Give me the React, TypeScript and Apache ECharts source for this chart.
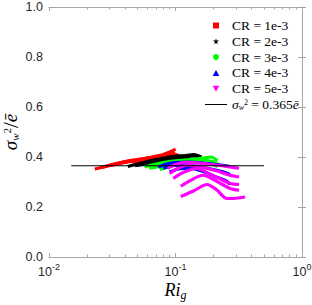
import React, { useEffect, useRef } from "react";
import * as echarts from "echarts";

const seriesNames = ["CR = 1e-3", "CR = 2e-3", "CR = 3e-3", "CR = 4e-3", "CR = 5e-3"];
const seriesColors = ["#ff0000", "#000000", "#00ff00", "#0000ff", "#ff00ff"];

// [Ri_g, sigma_w^2 / e] points for each curve
const cr1Curves: number[][][] = [
  [[0.023, 0.352], [0.028, 0.362], [0.035, 0.375], [0.045, 0.385], [0.06, 0.395], [0.08, 0.405], [0.1, 0.415]],
  [[0.026, 0.358], [0.032, 0.37], [0.04, 0.382], [0.05, 0.39], [0.065, 0.4], [0.08, 0.41], [0.095, 0.425], [0.1, 0.432]],
  [[0.03, 0.365], [0.04, 0.378], [0.055, 0.39], [0.07, 0.398], [0.09, 0.405], [0.105, 0.41]],
  [[0.045, 0.38], [0.06, 0.39], [0.075, 0.395], [0.09, 0.4], [0.11, 0.405]],
];
const cr2Curves: number[][][] = [
  [[0.042, 0.362], [0.05, 0.372], [0.06, 0.382], [0.075, 0.392], [0.09, 0.4], [0.11, 0.405], [0.13, 0.405], [0.155, 0.4]],
  [[0.048, 0.365], [0.06, 0.375], [0.075, 0.385], [0.095, 0.395], [0.12, 0.405], [0.14, 0.41], [0.16, 0.4]],
  [[0.055, 0.37], [0.07, 0.38], [0.085, 0.39], [0.1, 0.395], [0.12, 0.395], [0.14, 0.39]],
];
const cr3Curves: number[][][] = [
  [[0.057, 0.36], [0.065, 0.368], [0.08, 0.378], [0.1, 0.385], [0.13, 0.39], [0.16, 0.395], [0.19, 0.4], [0.215, 0.385]],
  [[0.062, 0.355], [0.075, 0.362], [0.09, 0.372], [0.11, 0.38], [0.14, 0.385], [0.17, 0.388], [0.2, 0.38], [0.22, 0.37]],
  [[0.075, 0.35], [0.085, 0.358], [0.1, 0.368], [0.13, 0.375], [0.16, 0.378], [0.19, 0.372], [0.215, 0.362]],
];
const cr4Curves: number[][][] = [
  [[0.073, 0.36], [0.085, 0.372], [0.1, 0.378], [0.13, 0.38], [0.17, 0.375], [0.21, 0.37], [0.25, 0.365], [0.27, 0.362]],
  [[0.08, 0.355], [0.095, 0.365], [0.12, 0.368], [0.16, 0.36], [0.2, 0.35], [0.24, 0.34], [0.27, 0.33]],
  [[0.09, 0.34], [0.105, 0.352], [0.13, 0.355], [0.17, 0.34], [0.21, 0.32], [0.25, 0.305], [0.27, 0.29]],
];
const cr5Curves: number[][][] = [
  [[0.087, 0.355], [0.1, 0.37], [0.123, 0.379], [0.16, 0.375], [0.21, 0.368], [0.27, 0.36], [0.318, 0.355]],
  [[0.09, 0.334], [0.105, 0.355], [0.123, 0.367], [0.16, 0.36], [0.21, 0.345], [0.27, 0.327], [0.318, 0.32]],
  [[0.096, 0.314], [0.115, 0.338], [0.147, 0.354], [0.19, 0.33], [0.23, 0.31], [0.27, 0.294], [0.318, 0.29]],
  [[0.11, 0.283], [0.13, 0.305], [0.165, 0.327], [0.2, 0.31], [0.235, 0.29], [0.27, 0.274], [0.318, 0.267]],
  [[0.11, 0.242], [0.14, 0.265], [0.177, 0.29], [0.21, 0.27], [0.255, 0.234], [0.3, 0.235], [0.355, 0.24]],
];
const allCurves = [cr1Curves, cr2Curves, cr3Curves, cr4Curves, cr5Curves];

const fitName = "fit";
const fitLine: number[][] = [[0.015, 0.365], [0.5, 0.365]];

const xMajorExponents = [-2, -1, 0];
const xMinorMultipliers = [2, 3, 4, 5, 6, 7, 8, 9];

const legendIcons = [
  "path://M0,0 H10 V10 H0 Z",
  "path://M50,0 L61,35 L98,35 L68,57 L79,91 L50,70 L21,91 L32,57 L2,35 L39,35 Z",
  "circle",
  "path://M5,0 L10,9 L0,9 Z",
  "path://M0,0 L10,0 L5,9 Z",
];

const boxColor = "#a6a6a6";
const labelColor = "#262626";
const sans = "'Liberation Sans', Arial, sans-serif";
const serif = "'Liberation Serif', 'Times New Roman', serif";

const toLog = (pts: number[][]) => pts.map(([x, y]) => [Math.log10(x), y]);

export default function App() {
  const ref = useRef<HTMLDivElement>(null);
  useEffect(() => {
    document.body.style.margin = "0";
    if (!ref.current) return;
    const chart = echarts.init(ref.current, null, { renderer: "svg" });

    const minorTicks: number[] = [];
    xMajorExponents.slice(0, -1).forEach((e) => {
      xMinorMultipliers.forEach((m) => minorTicks.push(e + Math.log10(m)));
    });

    const series: any[] = [];
    allCurves.forEach((curves, i) => {
      curves.forEach((c) => {
        series.push({
          type: "line",
          name: seriesNames[i],
          data: toLog(c),
          showSymbol: false,
          symbol: "none",
          smooth: 0.3,
          lineStyle: { color: seriesColors[i], width: 3.2 },
          itemStyle: { color: seriesColors[i] },
          xAxisIndex: 0,
          yAxisIndex: 0,
          z: 2 + i,
        });
      });
    });
    series.push({
      type: "line",
      name: fitName,
      data: toLog(fitLine),
      showSymbol: false,
      symbol: "none",
      lineStyle: { color: "#000", width: 1 },
      itemStyle: { color: "#000" },
      xAxisIndex: 0,
      yAxisIndex: 0,
      z: 10,
    });

    const xLabelRich = {
      b: { fontSize: 12.5, fontFamily: sans, color: labelColor, verticalAlign: "bottom", lineHeight: 16 },
      s: { fontSize: 9, fontFamily: sans, color: labelColor, verticalAlign: "top", lineHeight: 16 },
    };
    const baseX = { type: "value", min: -2, max: 0, interval: 1, splitLine: { show: false } };

    const option: any = {
      animation: false,
      grid: { left: 49, right: 10, top: 7, bottom: 48, containLabel: false, outerBoundsMode: "none" },
      legend: {
        orient: "vertical",
        left: 200,
        top: 13.5,
        itemWidth: 22,
        itemHeight: 6,
        itemGap: 1.8,
        symbolKeepAspect: true,
        textStyle: {
          fontFamily: serif,
          fontSize: 13.5,
          color: "#000",
          lineHeight: 13,
          rich: {
            it: { fontFamily: serif, fontStyle: "italic", fontSize: 13.5, color: "#000", lineHeight: 13, verticalAlign: "middle" },
            sub: { fontFamily: serif, fontStyle: "italic", fontSize: 8, color: "#000", lineHeight: 13, verticalAlign: "bottom" },
            sup: { fontFamily: serif, fontSize: 8, color: "#000", lineHeight: 13, verticalAlign: "top" },
            n: { fontFamily: serif, fontSize: 13.5, color: "#000", lineHeight: 13, verticalAlign: "middle" },
          },
        },
        formatter: (name: string) =>
          name === fitName ? "{it|σ}{sub|w}{sup|2}{n| = 0.365}{it|ē}" : name,
        data: [
          ...seriesNames.map((n, i) => ({ name: n, icon: legendIcons[i], itemStyle: { color: seriesColors[i] } })),
          { name: fitName, icon: "path://M0,0 H22 V1 H0 Z", itemStyle: { color: "#000" } },
        ],
      },
      xAxis: [
        {
          ...baseX,
          position: "bottom",
          name: "{it|Ri}{sub|g}",
          nameLocation: "middle",
          nameGap: 22,
          nameMoveOverlap: false,
          nameTextStyle: {
            rich: {
              it: { fontFamily: serif, fontStyle: "italic", fontSize: 18, color: "#000", lineHeight: 22, verticalAlign: "middle" },
              sub: { fontFamily: serif, fontStyle: "italic", fontSize: 12, color: "#000", lineHeight: 22, verticalAlign: "bottom" },
            },
          },
          axisLine: { show: true, lineStyle: { color: boxColor, width: 1 } },
          axisTick: { show: true, inside: true, length: 4, lineStyle: { color: boxColor } },
          axisLabel: {
            show: true,
            margin: 5,
            formatter: (v: number) => "{b|10}{s|" + Math.round(v) + "}",
            rich: xLabelRich,
          },
        },
        {
          ...baseX,
          position: "bottom",
          axisLine: { show: false },
          axisTick: { show: true, inside: true, length: 2.5, lineStyle: { color: boxColor }, customValues: minorTicks },
          axisLabel: { show: false },
        },
        {
          ...baseX,
          position: "top",
          axisLine: { show: true, lineStyle: { color: boxColor, width: 1 } },
          axisTick: { show: true, inside: true, length: 4, lineStyle: { color: boxColor } },
          axisLabel: { show: false },
        },
        {
          ...baseX,
          position: "top",
          axisLine: { show: false },
          axisTick: { show: true, inside: true, length: 2.5, lineStyle: { color: boxColor }, customValues: minorTicks },
          axisLabel: { show: false },
        },
      ],
      yAxis: [
        {
          type: "value",
          min: 0,
          max: 1,
          interval: 0.2,
          position: "left",
          name: "{it|σ}{sub|w}{sup|2}{n|/}{it|ē}",
          nameLocation: "middle",
          nameRotate: 90,
          nameGap: 29,
          nameMoveOverlap: false,
          nameTextStyle: {
            rich: {
              it: { fontFamily: serif, fontStyle: "italic", fontSize: 19, color: "#000", lineHeight: 19, verticalAlign: "middle" },
              sub: { fontFamily: serif, fontStyle: "italic", fontSize: 11, color: "#000", lineHeight: 19, verticalAlign: "bottom" },
              sup: { fontFamily: serif, fontSize: 11, color: "#000", lineHeight: 19, verticalAlign: "top" },
              n: { fontFamily: serif, fontSize: 21, color: "#000", lineHeight: 19, verticalAlign: "middle" },
            },
          },
          axisLine: { show: true, lineStyle: { color: boxColor, width: 1 } },
          axisTick: { show: true, inside: true, length: 4, lineStyle: { color: boxColor } },
          axisLabel: {
            show: true,
            margin: 6,
            fontFamily: sans,
            fontSize: 12.5,
            color: labelColor,
            formatter: (v: number) => v.toFixed(1),
          },
          splitLine: { show: false },
        },
        {
          type: "value",
          min: 0,
          max: 1,
          interval: 0.2,
          position: "right",
          axisLine: { show: true, lineStyle: { color: boxColor, width: 1 } },
          axisTick: { show: true, inside: true, length: 4, lineStyle: { color: boxColor } },
          axisLabel: { show: false },
          splitLine: { show: false },
        },
      ],
      series,
    };
    chart.setOption(option);
    return () => chart.dispose();
  }, []);
  return <div ref={ref} style={{ width: 312, height: 305 }} />;
}
